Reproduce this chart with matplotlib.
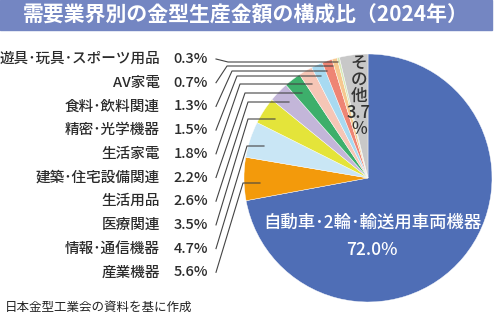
import matplotlib.pyplot as plt
from matplotlib.patches import Rectangle

plt.rcParams['font.family'] = ['Noto Sans CJK JP', 'DejaVu Sans']

# data, clockwise from 12 o'clock
main_label = "自動車･2輪･輸送用車両機器"
main_value = 72.0
small_labels = ["産業機器", "情報･通信機器", "医療関連", "生活用品", "建築･住宅設備関連",
                "生活家電", "精密･光学機器", "食料･飲料関連", "AV家電", "遊具･玩具･スポーツ用品"]
small_values = [5.6, 4.7, 3.5, 2.6, 2.2, 1.8, 1.5, 1.3, 0.7, 0.3]
other_label = "その他"
other_value = 3.7

colors = ['#4F6EB6', '#F39A0B', '#C9E6F5', '#E4E43A', '#C3B6D9', '#3DAF6B',
          '#F6C6B6', '#A8DAF1', '#EE8574', '#F6C88F', '#D6E9B6', '#C8C8C8']

title = "需要業界別の金型生産金額の構成比（2024年）"
source = "日本金型工業会の資料を基に作成"

W, H = 495, 330
def Y(y):
    return H - y

fig = plt.figure(figsize=(4.95, 3.3), dpi=100)
ax = fig.add_axes([0, 0, 1, 1])

values = [main_value] + small_values + [other_value]
cx, cy, R = 368, 178, 124
wedges, _ = ax.pie(values, colors=colors, startangle=90, counterclock=False,
                   center=(cx, Y(cy)), radius=R,
                   wedgeprops=dict(edgecolor='white', linewidth=0.3))
ax.set_xlim(0, W)
ax.set_ylim(0, H)
ax.set_aspect('equal')
ax.axis('off')

# title band
ax.add_patch(Rectangle((0, Y(30)), 492, 30, color='#7486C2', zorder=0))
ax.text(246, Y(15), title, color='white', fontsize=15, fontweight='bold',
        ha='center', va='center')

# left labels with leader lines (listed top to bottom)
label_y0, label_dy = 59, 23.7
hline_y = [62, 66, 71, 76, 84, 93, 102, 119, 146, 183]
knee_x = [228, 227, 232, 237, 240, 245, 248, 248, 247, 243]
end_x = [338, 333, 327, 321, 312, 302, 289, 275, 264, 260]
for i, (name, v) in enumerate(zip(small_labels[::-1], small_values[::-1])):
    ly = label_y0 + label_dy * i
    ax.text(160, Y(ly), name, fontsize=10.5, fontweight='medium', color='#2b2b2b',
            ha='right', va='center')
    ax.text(208, Y(ly), f"{v:.1f}%", fontsize=10.5, fontweight='medium', color='#2b2b2b',
            ha='right', va='center')
    ax.plot([216, knee_x[i], end_x[i]], [Y(ly), Y(hline_y[i]), Y(hline_y[i])],
            color='#444444', lw=0.8, zorder=3)

# main slice label
ax.text(372, Y(223), main_label, fontsize=12.5, fontweight='medium', color='white',
        ha='center', va='center')
ax.text(372, Y(250), f"{main_value:.1f}%", fontsize=12.5, fontweight='medium', color='white',
        ha='center', va='center')

# other slice label, stacked vertically
other_lines = list(other_label) + [f"{other_value}", "%"]
for i, s in enumerate(other_lines):
    ax.text(359, Y(63 + 16.5 * i), s, fontsize=12, fontweight='medium', color='#333333',
            ha='center', va='center')

ax.text(5, Y(307), source, fontsize=9, color='#222222', ha='left', va='center')

fig.savefig('out.png', dpi=100)
